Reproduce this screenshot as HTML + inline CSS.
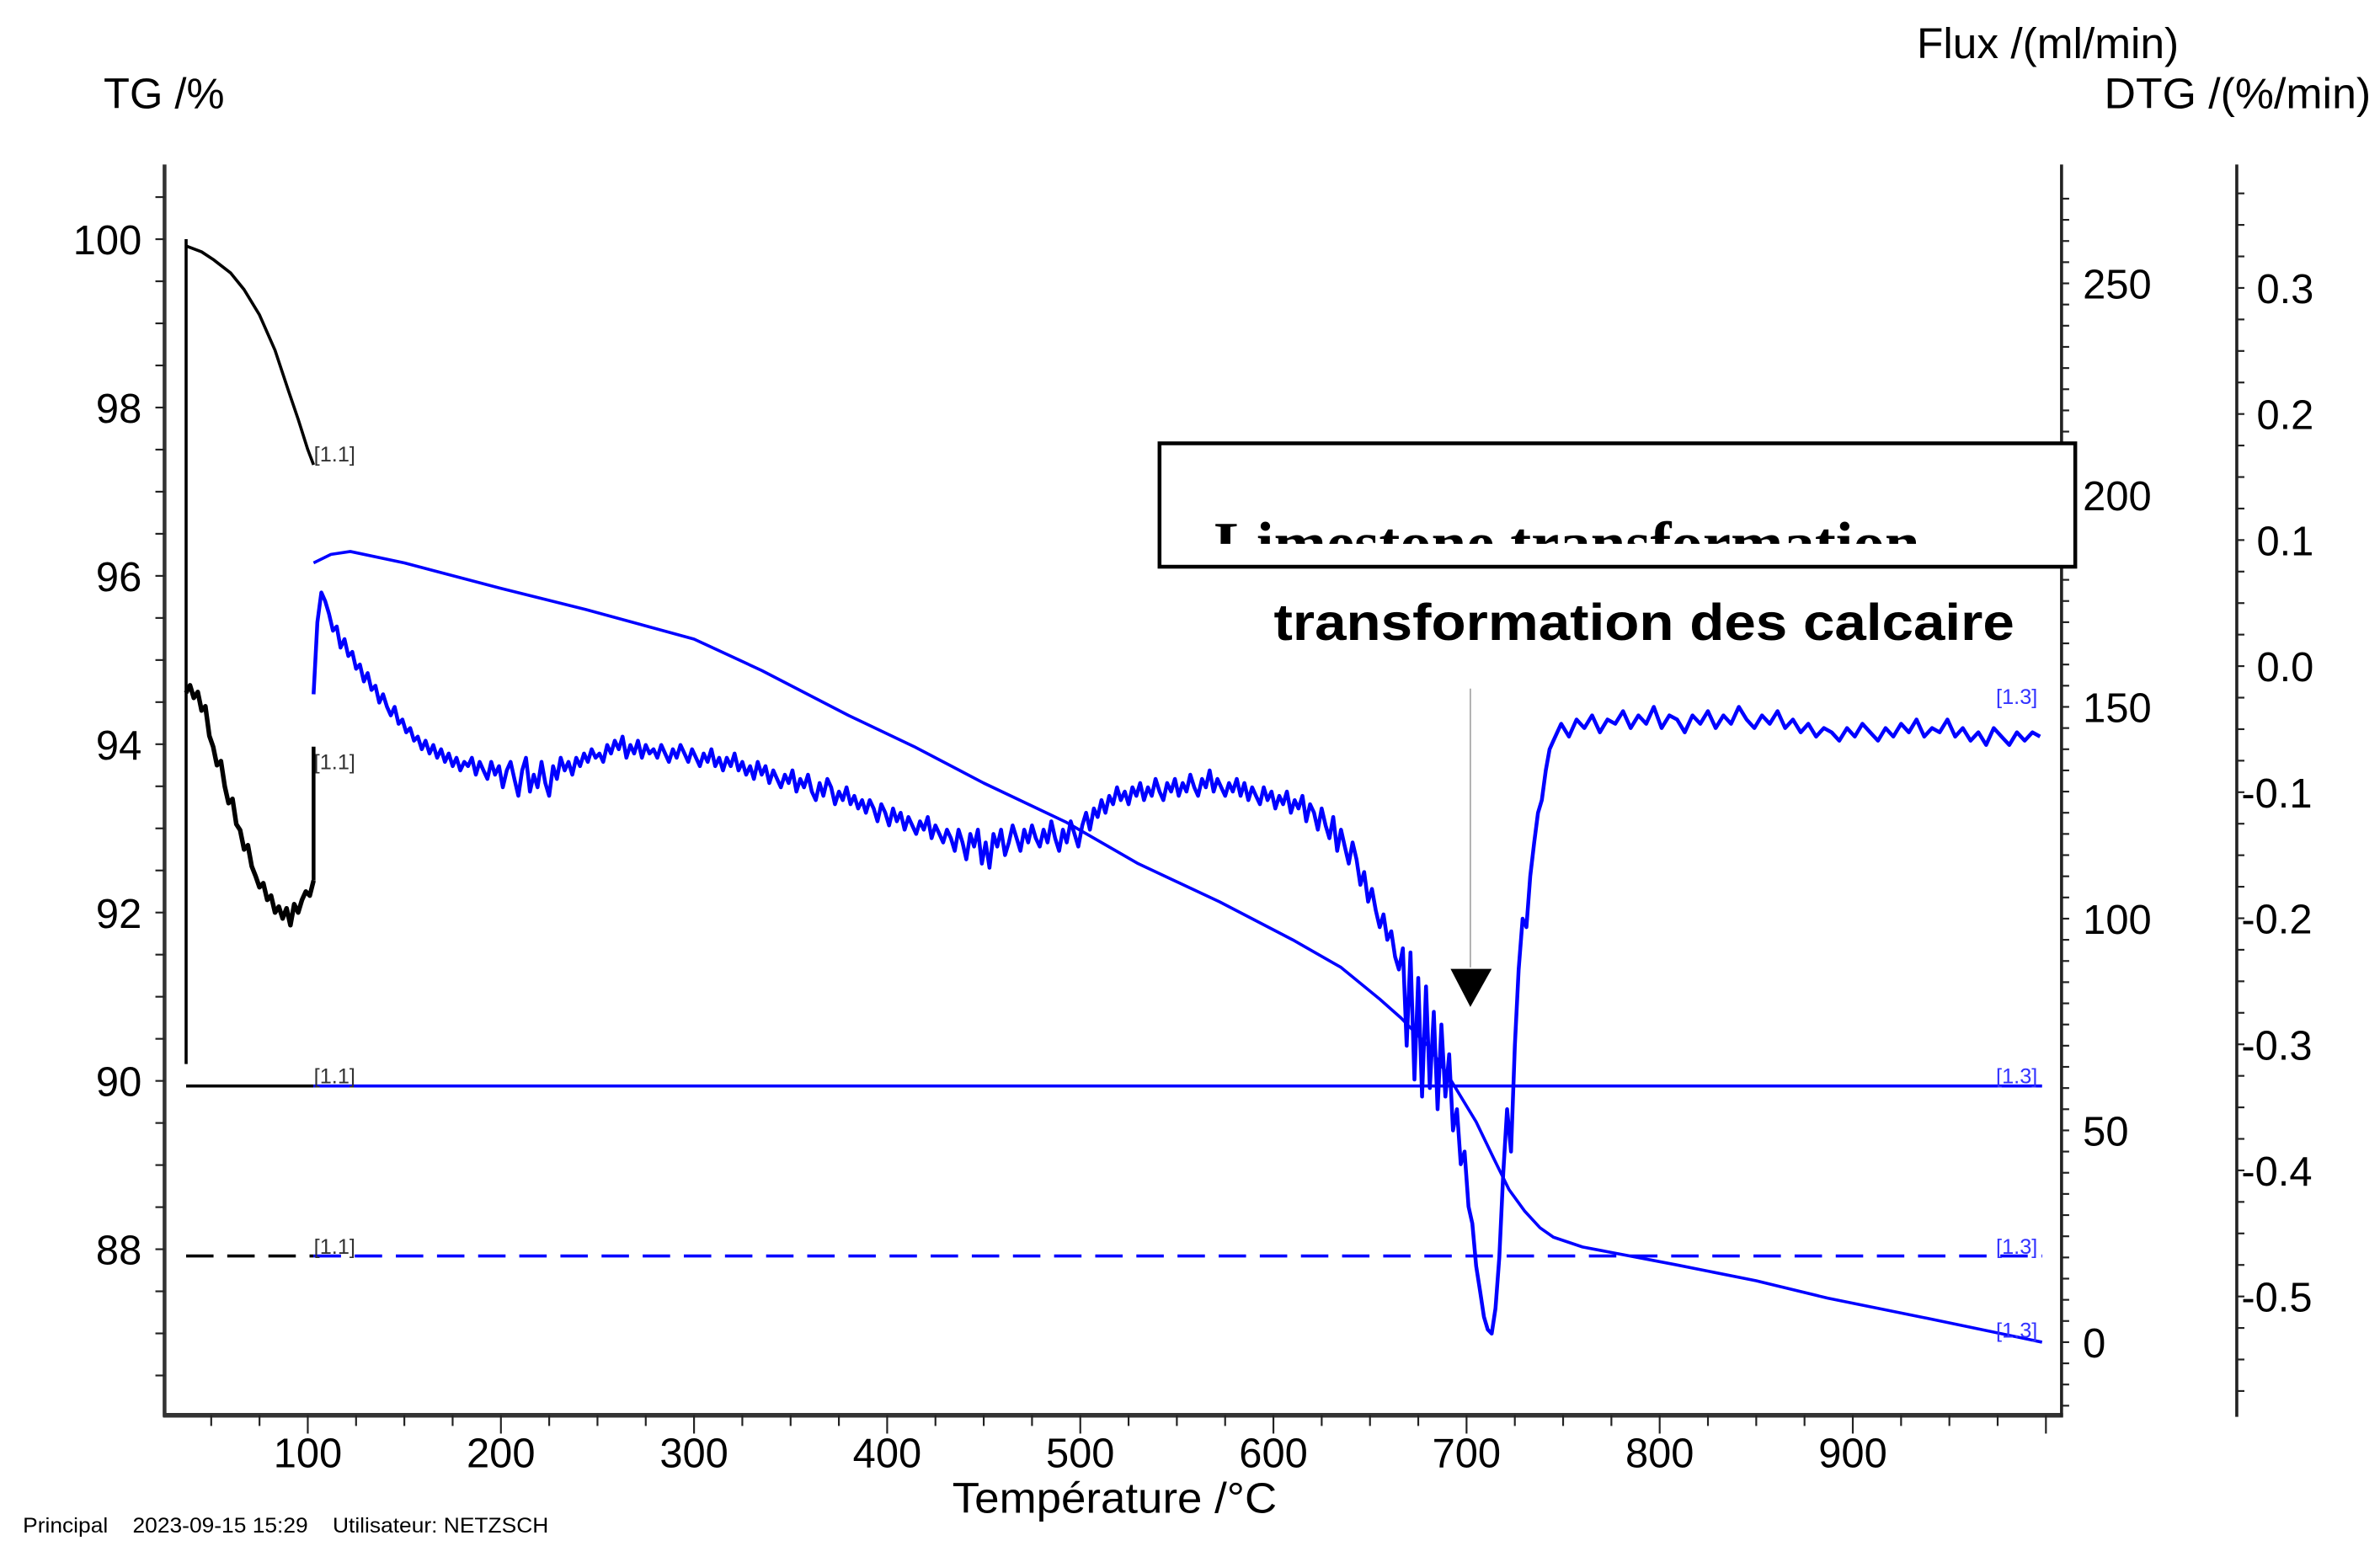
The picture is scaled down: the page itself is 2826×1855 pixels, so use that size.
<!DOCTYPE html>
<html><head><meta charset="utf-8"><style>
html,body{margin:0;padding:0;background:#fff;overflow:hidden}
svg{display:block}
text{font-family:"Liberation Sans",sans-serif}
</style></head><body>
<svg id="chart" width="2826" height="1855" viewBox="0 0 1562 1025.3" xmlns="http://www.w3.org/2000/svg">
<rect x="0" y="0" width="1562" height="1026" fill="#fff"/>
<g id="axes"></g>
<g id="series"></g>
<text x="68" y="71" font-size="28">TG /%</text>
<text x="1258" y="38" font-size="28" textLength="172" lengthAdjust="spacingAndGlyphs">Flux /(ml/min)</text>
<text x="1381" y="71" font-size="28" textLength="175" lengthAdjust="spacingAndGlyphs">DTG /(%/min)</text>
<text x="625" y="993" font-size="28" textLength="213" lengthAdjust="spacingAndGlyphs">Température /°C</text>
<text x="15" y="1006" font-size="14" textLength="345" lengthAdjust="spacingAndGlyphs">Principal&#160;&#160;&#160;&#160;2023-09-15 15:29&#160;&#160;&#160;&#160;Utilisateur: NETZSCH</text>
<g>
<defs><clipPath id="bx"><rect x="762" y="292" width="598" height="65"/></clipPath></defs>
<rect x="761" y="291" width="601" height="81" fill="#fff" stroke="#000" stroke-width="2.5"/>
<text clip-path="url(#bx)" x="797" y="370" style="font-family:'Liberation Serif',serif" font-weight="bold" font-size="40" textLength="463" lengthAdjust="spacingAndGlyphs">Limestone transformation</text>
</g>
<text x="836" y="420" font-size="34" font-weight="bold" textLength="486" lengthAdjust="spacingAndGlyphs">transformation des calcaire</text>
<line x1="965" y1="452" x2="965" y2="635" stroke="#aaa" stroke-width="1"/>
<polygon points="952,636 979,636 965,661" fill="#000"/>
</svg>
<script>
// ---- data ----
const tgT=[37,45,51,60,67,75,83,90,95,100,103];
const tgV=[99.92,99.85,99.76,99.6,99.4,99.1,98.68,98.2,97.86,97.5,97.32];
const dtgBlackT=[37,39,41,43,45,47,49,51,53,55,57,59,61,63,65,67,69,71,73,75,77,79,81,83,85,87,89,91,93,95,97,99,101,103];
const dtgBlackV=[94.61,94.7,94.55,94.62,94.4,94.45,94.1,93.97,93.75,93.8,93.5,93.3,93.35,93.05,92.98,92.75,92.8,92.55,92.43,92.3,92.35,92.15,92.2,92.0,92.07,91.93,92.05,91.85,92.1,92.0,92.15,92.25,92.2,92.38];
const fluxSmoothT=[103,112,122,150,200,244,300,335,380,414,450,493,530,572,610,635,655,666,680,690,705,714,722,730,738,745,760,808,850,887,940,998];
const fluxSmoothV=[184,186,186.7,184,178,173,166,158.6,148,140.6,132,122.7,113,104,95,88.5,81,76.6,70,63.3,52,43.5,36,31,27,24.8,22.5,18.3,14.5,10.4,5.5,0];
const noisyT=[103,105,107,109,111,113,115,117,119,121,123,125,127,129,131,133,135,137,139,141,143,145,147,149,151,153,155,157,159,161,163,165,167,169,171,173,175,177,179,181,183,185,187,189,191,193,195,197,199,201,203,205,207,209,211,213,215,217,219,221,223,225,227,229,231,233,235,237,239,241,243,245,247,249,251,253,255,257,259,261,263,265,267,269,271,273,275,277,279,281,283,285,287,289,291,293,295,297,299,301,303,305,307,309,311,313,315,317,319,321,323,325,327,329,331,333,335,337,339,341,343,345,347,349,351,353,355,357,359,361,363,365,367,369,371,373,375,377,379,381,383,385,387,389,391,393,395,397,399,401,403,405,407,409,411,413,415,417,419,421,423,425,427,429,431,433,435,437,439,441,443,445,447,449,451,453,455,457,459,461,463,465,467,469,471,473,475,477,479,481,483,485,487,489,491,493,495,497,499,501,503,505,507,509,511,513,515,517,519,521,523,525,527,529,531,533,535,537,539,541,543,545,547,549,551,553,555,557,559,561,563,565,567,569,571,573,575,577,579,581,583,585,587,589,591,593,595,597,599,601,603,605,607,609,611,613,615,617,619,621,623,625,627,629,631,633,635,637,639,641,643,645,647,649,651,653,655,657,659,661,663,665,667,669,671,673,675,677,679,681,683,685,687,689,691,693,695,697,699,701,703,705,707,709,711,713,715,717,719,721,723,725,727,729,731,733,735,737,739,741,743,745,749,753,757,761,765,769,773,777,781,785,789,793,797,801,805,809,813,817,821,825,829,833,837,841,845,849,853,857,861,865,869,873,877,881,885,889,893,897,901,905,909,913,917,921,925,929,933,937,941,945,949,953,957,961,965,969,973,977,981,985,989,993,997];
const noisyV=[153,170,177,175,172,168,169,164,166,162,163,159,160,156,158,154,155,151,153,150,148,150,146,147,144,145,142,143,140,142,139,141,138,140,137,139,136,138,135,137,136,138,134,137,135,133,137,134,136,131,135,137,133,129,135,138,130,134,131,137,132,129,136,133,138,135,137,134,138,136,139,137,140,138,139,137,141,139,142,140,143,138,141,139,142,138,141,139,140,138,141,139,137,140,138,141,139,137,140,138,136,139,137,140,136,138,135,138,136,139,135,137,134,136,133,137,134,136,132,135,133,131,134,132,135,130,133,131,134,130,128,132,129,133,131,127,130,128,131,127,129,126,128,125,128,126,123,127,125,122,126,123,125,121,124,122,120,123,121,124,119,122,120,118,121,119,116,121,118,114,120,117,121,113,118,112,120,117,121,115,118,122,119,116,121,118,122,119,117,121,118,123,119,116,121,118,123,120,117,122,125,121,126,124,128,125,129,127,131,128,130,127,131,129,132,128,131,129,133,130,128,132,130,133,129,132,130,134,131,129,133,131,135,130,133,131,129,132,130,133,129,132,128,131,129,127,131,128,130,126,129,127,130,125,128,126,129,123,127,125,121,126,122,119,124,116,121,117,113,118,114,108,111,104,107,102,98,101,95,97,91,88,93,70,92,62,86,58,84,60,78,55,75,58,68,50,55,42,45,32,28,18,12,6,3,2,8,20,40,55,45,70,88,100,98,110,118,125,128,135,140,142,146,143,147,145,148,144,147,146,149,145,148,146,150,145,148,147,144,148,146,149,145,148,146,150,147,145,148,146,149,145,147,144,146,143,145,144,142,145,143,146,144,142,145,143,146,144,147,143,145,144,147,143,145,142,144,141,145,143,141,144,142,144,143];
const tgTicks=[100,98,96,94,92,90,88];
const fluxTicks=[250,200,150,100,50,0];
const dtgTicks=[0.3,0.2,0.1,0.0,-0.1,-0.2,-0.3,-0.4,-0.5];
const xTicks=[100,200,300,400,500,600,700,800,900];
const baseTG=89.94, dashTG=87.92;
// ---- scales ----
const X=t=>202+(t-100)*1.2675;
const YT=v=>157+(100-v)*55.25;
const YF=v=>881-v*2.78;
const YD=v=>189+(0.3-v)*827.5;
const NS='http://www.w3.org/2000/svg';
const axes=document.getElementById('axes'), ser=document.getElementById('series');
function mk(tag,attrs,parent){const e=document.createElementNS(NS,tag);for(const k in attrs)e.setAttribute(k,attrs[k]);parent.appendChild(e);return e;}
let a;
a=mk('line',{x1:108,y1:108,x2:108,y2:930,stroke:'#333','stroke-width':2.5},axes);


a=mk('line',{x1:107,y1:929,x2:1354,y2:929,stroke:'#333','stroke-width':3},axes);


a=mk('line',{x1:1353,y1:108,x2:1353,y2:930,stroke:'#222','stroke-width':2},axes);


a=mk('line',{x1:1468,y1:108,x2:1468,y2:930,stroke:'#222','stroke-width':2},axes);


for(let v=101;v>=85.6;v-=0.5){const y=YT(v);if(y<110||y>926)continue;mk('line',{x1:108,y1:y,x2:102,y2:y,stroke:'#222','stroke-width':1.2},axes);}
for(let v=270;v>=-15;v-=5){const y=YF(v);if(y<110||y>926)continue;mk('line',{x1:1353,y1:y,x2:1358,y2:y,stroke:'#222','stroke-width':1.2},axes);}
for(let v=0.4;v>=-0.6;v-=0.025){const y=YD(v);if(y<110||y>926)continue;mk('line',{x1:1468,y1:y,x2:1473,y2:y,stroke:'#222','stroke-width':1.2},axes);}
for(let t=50;t<=1000;t+=25){mk('line',{x1:X(t),y1:929,x2:X(t),y2:t%100===0?941:936,stroke:'#222','stroke-width':1.2},axes);}
tgTicks.forEach(v=>{const e=mk('text',{x:93,y:YT(v)+10,'font-size':27,'text-anchor':'end'},axes);e.textContent=v;

});
fluxTicks.forEach(v=>{const e=mk('text',{x:1367,y:YF(v)+10,'font-size':27},axes);e.textContent=v;

});
dtgTicks.forEach(v=>{const e=mk('text',{x:(v<0?1471:1481),y:YD(v)+10,'font-size':27},axes);e.textContent=(v===0?'0.0':String(v));

});
xTicks.forEach(v=>{const e=mk('text',{x:X(v),y:963,'font-size':27,'text-anchor':'middle'},axes);e.textContent=v;

});
function poly(T,V,Y,col,w,name){const d=T.map((t,i)=>(i?'L':'M')+X(t).toFixed(1)+','+Y(V[i]).toFixed(1)).join('');
const p=mk('path',{d:d,fill:'none',stroke:col,'stroke-width':w,'stroke-linejoin':'round'},ser);

return p;}
let p;
p=mk('line',{x1:X(37),y1:YT(100),x2:X(37),y2:YT(90.2),stroke:'#000','stroke-width':2},ser);


poly(tgT,tgV,YT,'#000',2,'tg-curve');
poly(dtgBlackT,dtgBlackV,YT,'#000',3,'dtg-black-curve');
p=mk('line',{x1:X(103),y1:YT(92.38),x2:X(103),y2:YT(93.97),stroke:'#000','stroke-width':2.5},ser);


p=mk('line',{x1:X(37),y1:YT(baseTG),x2:X(103),y2:YT(baseTG),stroke:'#000','stroke-width':2},ser);


p=mk('line',{x1:X(103),y1:YT(baseTG),x2:X(998),y2:YT(baseTG),stroke:'#00f','stroke-width':2},ser);


p=mk('line',{x1:X(37),y1:YT(dashTG),x2:X(103),y2:YT(dashTG),stroke:'#000','stroke-width':2,'stroke-dasharray':'18,9'},ser);


p=mk('line',{x1:X(103),y1:YT(dashTG),x2:X(998),y2:YT(dashTG),stroke:'#00f','stroke-width':2,'stroke-dasharray':'18,9'},ser);


poly(fluxSmoothT,fluxSmoothV,YF,'#00f',2,'flux-smooth-curve');
poly(noisyT,noisyV,YF,'#00f',2.5,'dtg-blue-curve');
[[206,303],[206,505],[206,711],[206,823]].forEach(([x,y])=>{const e=mk('text',{x:x,y:y,'font-size':14,fill:'#333'},ser);e.textContent='[1.1]';

});
[[1310,462],[1310,711],[1310,823],[1310,878]].forEach(([x,y])=>{const e=mk('text',{x:x,y:y,'font-size':14,fill:'#33f'},ser);e.textContent='[1.3]';

});
</script>
</body></html>
